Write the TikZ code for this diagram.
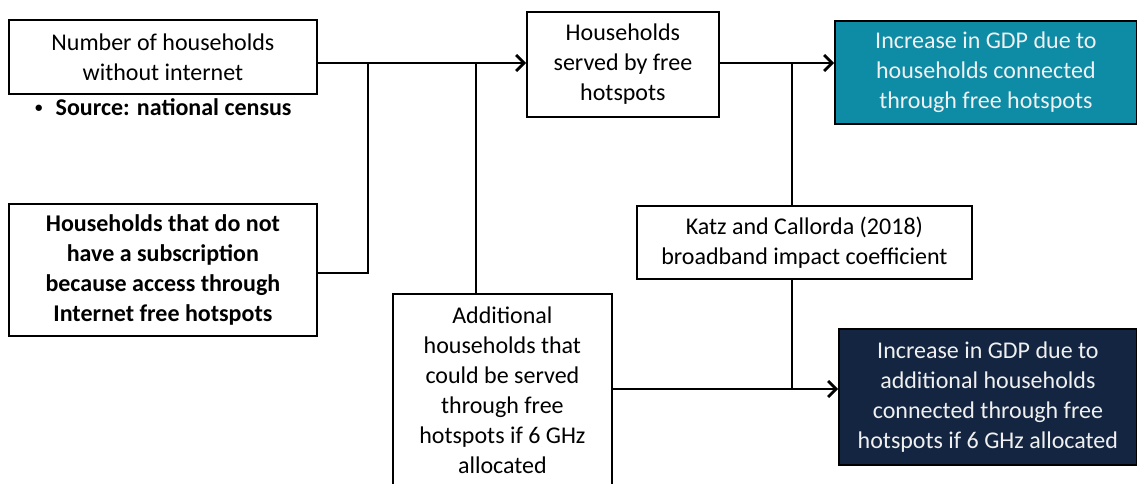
\documentclass[tikz,border=0pt]{standalone}
\usepackage{fontspec}
\setmainfont{Carlito}
\usetikzlibrary{arrows.meta}
\definecolor{tealbox}{RGB}{14,139,165}
\definecolor{navybox}{RGB}{19,37,64}
\definecolor{lighttext}{RGB}{240,240,240}
\begin{document}
\begin{tikzpicture}[x=1pt,y=-1pt,
  box/.style={draw=black,line width=1.8pt,rectangle,anchor=north west,inner sep=0pt,align=center,font=\fontsize{24}{30}\selectfont},
  conn/.style={line width=2.8pt},
  arr/.style={conn,-{Straight Barb[length=8pt,width=16pt,line width=2.8pt]}}]
\useasboundingbox (0,0) rectangle (1137,484);
\node[box,minimum width=308pt,minimum height=74pt] (A) at (8,19) {Number of households\\without internet};
\node[anchor=west,inner sep=0pt,font=\bfseries\fontsize{24}{30}\selectfont] (src) at (35,107) {\raisebox{3pt}{\fontsize{15}{15}\selectfont\textbullet}\hspace{13pt}Source: national census};
\node[box,minimum width=192pt,minimum height=105pt] (served) at (526,11) {Households\\served by free\\hotspots};
\node[box,fill=tealbox,text=lighttext,minimum width=302pt,minimum height=103pt] (teal) at (834,20) {Increase in GDP due to\\households connected\\through free hotspots};
\node[box,font=\bfseries\fontsize{24}{30}\selectfont,minimum width=308pt,minimum height=132pt] (B) at (8,203) {Households that do not\\have a subscription\\because access through\\Internet free hotspots};
\node[box,minimum width=335pt,minimum height=73pt] (katz) at (636,205) {Katz and Callorda (2018)\\broadband impact coefficient};
\node[box,minimum width=219pt,minimum height=193pt] (add) at (392,293) {Additional\\households that\\could be served\\through free\\hotspots if 6 GHz\\allocated};
\node[box,fill=navybox,text=lighttext,minimum width=298pt,minimum height=136pt] (navy) at (838,328) {Increase in GDP due to\\additional households\\connected through free\\hotspots if 6 GHz allocated};
\coordinate (j1) at (368,63);
\coordinate (j2) at (476,63);
\coordinate (j3) at (792,63);
\coordinate (j4) at (792,389);
\draw[arr] (A.east |- j1) -- (served.west |- j1);
\draw[conn] (B.east |- 0,273) -| (j1);
\draw[conn] (j2) -- (j2 |- add.north);
\draw[arr] (served.east |- j3) -- (teal.west |- j3);
\draw[conn] (j3) -- (j3 |- katz.north);
\draw[conn] (j3 |- katz.south) -- (j4);
\draw[arr] (add.east |- j4) -- (navy.west |- j4);
\end{tikzpicture}
\end{document}
